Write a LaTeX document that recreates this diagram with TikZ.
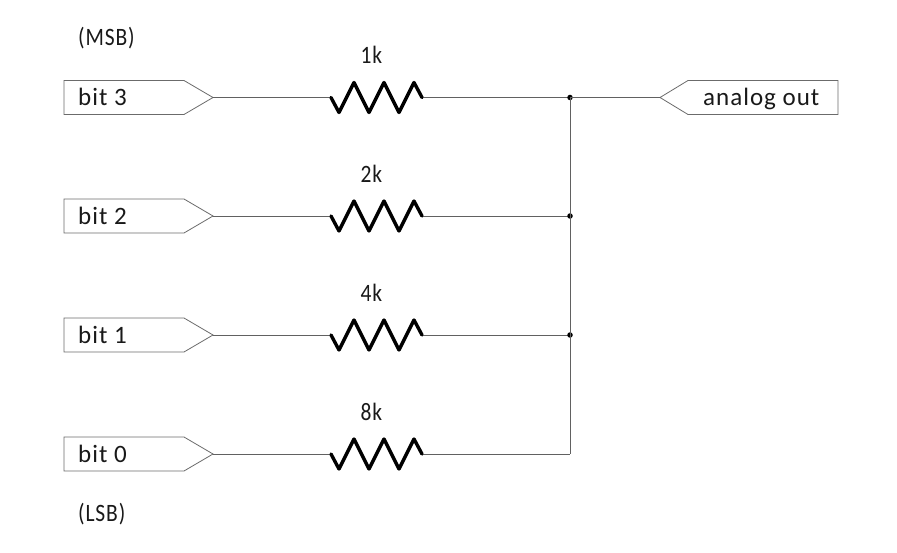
\documentclass[tikz,border=0pt]{standalone}
\usepackage{fontspec}
\setmainfont{Carlito}[LetterSpace=4]
\newcommand{\narrowtxt}[1]{\scalebox{0.86}[1]{#1}}
\begin{document}
\begin{tikzpicture}[x=1pt,y=-1pt,
  wire/.style={draw=black!62,line width=0.9pt},
  outline/.style={draw=black!58,line width=0.8pt,fill=white,line join=miter},
  zig/.style={draw=black,line width=3.4pt,line join=round,line cap=round},
  label/.style={inner sep=0pt,font=\fontsize{25}{28}\selectfont,text=black!90,anchor=base west},
  dotj/.style={circle,fill=black,inner sep=0pt,minimum size=5.5pt}]
\useasboundingbox (0,0) rectangle (897,553);
\foreach \n/\y/\lab/\val in {3/97.5/bit 3/1k,2/216/bit 2/2k,1/335/bit 1/4k,0/454/bit 0/8k}{
  \draw[outline] (64,\y-17) -- (184,\y-17) -- (213,\y) -- (184,\y+17) -- (64,\y+17) -- cycle;
  \coordinate (tip\n) at (213,\y);
  \coordinate (rin\n) at (331,\y);
  \coordinate (rout\n) at (422,\y);
  \coordinate (bus\n) at (570,\y);
  \draw[wire] (tip\n) -- (rin\n);
  \draw[wire] (rout\n) -- (bus\n);
  \draw[zig] (rin\n) -- ++(8,15) -- ++(15,-30) -- ++(15,30) -- ++(15,-30) -- ++(15,30) -- ++(15,-30) -- (rout\n);
  \node[label] (lab\n) at (78,\y+8.5) {\lab};
  \node[label] (val\n) at (360.5,\y-33.5) {\narrowtxt{\val}};
}
\node[dotj] (j3) at (bus3) {};
\node[dotj] (j2) at (bus2) {};
\node[dotj] (j1) at (bus1) {};
\draw[wire] (j3.center) -- (bus0);
\draw[outline] (838,80.5) -- (688,80.5) -- (660,97.5) -- (688,114.5) -- (838,114.5) -- cycle;
\coordinate (outtip) at (660,97.5);
\draw[wire] (j3.center) -- (outtip);
\node[label] (aout) at (703,106) {analog out};
\node[label] (msb) at (78,46) {\narrowtxt{(MSB)}};
\node[label] (lsb) at (78,521.7) {\narrowtxt{(LSB)}};
\end{tikzpicture}
\end{document}
